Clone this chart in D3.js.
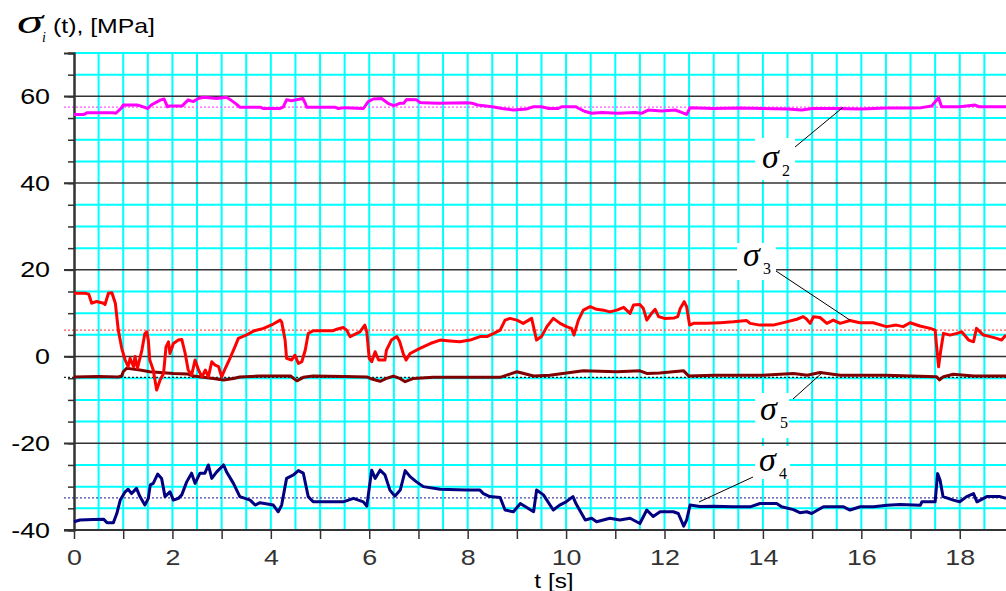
<!DOCTYPE html>
<html>
<head>
    <meta charset="utf-8">
    <title>sigma_i(t)</title>
    <script src="https://d3js.org/d3.v7.min.js"></script>
    <style>
        body { margin: 0; background: #fff; }
        svg { display: block; }
    </style>
</head>
<body>
<div id="chart"></div>
<script>
    // measured stress signals, [t in s, value in MPa]
    var sigma2 = [[0,55.8],[0.2,55.8],[0.26,56.2],[0.8,56.2],[0.85,56.1],[0.97,57.4],[1.0,58.0],[1.28,58.0],[1.35,57.8],[1.5,57.2],[1.57,58.0],[1.76,59.2],[1.83,59.4],[1.9,57.6],[1.95,57.8],[2.2,57.8],[2.32,59.2],[2.42,58.8],[2.53,59.5],[2.63,59.8],[2.9,59.5],[3.1,59.8],[3.17,59.3],[3.3,58.2],[3.37,57.5],[3.78,57.5],[3.85,57.2],[4.18,57.2],[4.25,57.5],[4.32,59.2],[4.42,59.0],[4.65,59.5],[4.7,58.4],[4.73,57.5],[5.3,57.5],[5.37,57.2],[5.5,57.4],[5.88,57.2],[5.98,58.8],[6.08,59.4],[6.25,59.5],[6.38,58.4],[6.5,57.85],[6.62,58.4],[6.7,58.4],[6.76,59.3],[6.96,59.2],[7.03,58.6],[7.1,58.5],[7.4,58.4],[7.98,58.5],[8.1,58.4],[8.2,58.0],[8.5,57.6],[8.7,57.2],[8.93,56.85],[9.2,57.1],[9.34,57.6],[9.5,57.6],[9.65,57.2],[9.84,57.2],[9.91,57.6],[10.2,57.6],[10.26,57.2],[10.39,56.5],[10.52,56.1],[10.73,56.3],[11.06,56.1],[11.4,56.3],[11.53,56.1],[11.67,56.85],[11.94,56.6],[12.22,56.85],[12.36,56.25],[12.45,55.85],[12.52,57.4],[13.0,57.2],[13.5,57.3],[14.0,57.2],[14.5,57.1],[14.79,56.85],[15.0,57.2],[15.5,57.2],[16.0,57.1],[16.5,57.3],[17.0,57.3],[17.22,57.4],[17.43,57.8],[17.57,59.7],[17.63,57.6],[18.0,57.6],[18.31,58.0],[18.4,57.6],[18.94,57.6]];

    var sigma3 = [[0,14.6],[0.23,14.6],[0.3,14.4],[0.36,12.3],[0.46,12.7],[0.6,12.3],[0.63,12.0],[0.7,14.6],[0.77,14.7],[0.84,12.3],[0.9,6.1],[0.97,1.9],[1.04,-0.8],[1.1,-2.35],[1.14,-0.4],[1.21,-2.35],[1.24,0.0],[1.29,-2.7],[1.38,1.5],[1.44,5.3],[1.48,5.7],[1.51,3.8],[1.54,-0.8],[1.61,-3.1],[1.68,-7.7],[1.75,-5.4],[1.82,-3.9],[1.87,2.25],[1.92,3.4],[1.95,0.7],[2.02,3.0],[2.12,3.8],[2.19,3.95],[2.26,0.7],[2.32,-3.1],[2.39,-4.3],[2.46,-0.8],[2.53,-3.1],[2.6,-4.7],[2.67,-3.1],[2.73,-4.7],[2.8,-1.2],[2.87,-2.0],[2.94,-2.35],[3.0,-4.7],[3.06,-3.1],[3.17,-0.4],[3.27,2.25],[3.34,4.2],[3.51,5.0],[3.65,5.9],[3.85,6.5],[4.05,7.5],[4.19,8.4],[4.22,8.0],[4.29,3.8],[4.32,-0.4],[4.42,-0.8],[4.49,0.3],[4.56,-1.6],[4.63,-1.2],[4.7,1.5],[4.76,5.3],[4.86,5.95],[5.07,5.95],[5.27,5.95],[5.34,6.3],[5.47,6.7],[5.54,6.1],[5.61,4.6],[5.81,5.7],[5.91,7.25],[5.95,5.7],[6.0,-0.4],[6.05,-1.2],[6.12,1.1],[6.19,-0.8],[6.32,-0.8],[6.35,1.5],[6.45,3.8],[6.56,4.6],[6.62,3.4],[6.69,0.7],[6.75,-0.8],[6.83,0.7],[7.03,1.9],[7.24,3.0],[7.44,3.8],[7.64,3.6],[7.84,3.4],[8.05,3.8],[8.25,4.6],[8.39,4.6],[8.52,5.3],[8.66,6.1],[8.76,8.4],[8.86,8.8],[9.0,8.4],[9.13,7.65],[9.3,8.8],[9.4,3.8],[9.5,4.6],[9.61,6.9],[9.74,8.8],[9.88,7.65],[10.01,6.9],[10.11,6.5],[10.16,4.95],[10.25,8.4],[10.35,10.7],[10.49,11.5],[10.62,10.9],[10.76,10.7],[10.89,10.3],[11.03,10.7],[11.17,11.35],[11.3,9.95],[11.37,11.9],[11.5,12.0],[11.57,11.1],[11.64,8.4],[11.74,10.0],[11.81,10.9],[11.88,9.2],[12.0,8.8],[12.2,8.9],[12.27,9.2],[12.32,11.1],[12.4,12.65],[12.45,11.5],[12.51,7.25],[12.59,7.65],[12.86,7.65],[13.13,7.8],[13.4,8.0],[13.67,8.3],[13.74,7.65],[13.94,7.25],[14.21,7.25],[14.48,8.0],[14.69,8.6],[14.82,9.2],[14.89,8.6],[14.96,7.65],[15.03,9.2],[15.16,9.0],[15.3,7.65],[15.43,8.4],[15.57,7.65],[15.77,8.3],[15.97,7.8],[16.24,7.8],[16.51,6.9],[16.71,7.25],[16.85,6.9],[16.99,7.8],[17.19,7.05],[17.4,6.5],[17.5,6.1],[17.53,2.3],[17.57,-2.35],[17.61,1.1],[17.67,5.35],[17.8,4.95],[17.94,5.35],[18.04,5.7],[18.18,3.8],[18.28,3.4],[18.34,6.5],[18.48,4.95],[18.62,4.6],[18.75,4.2],[18.85,3.8],[18.94,4.95]];

    var sigma5 = [[0,-4.7],[0.5,-4.6],[0.9,-4.7],[0.97,-4.5],[1.0,-3.5],[1.07,-2.7],[1.2,-2.9],[1.34,-3.1],[1.54,-3.5],[1.75,-3.7],[2.02,-3.9],[2.3,-4.0],[2.43,-4.5],[2.63,-4.8],[2.83,-5.05],[3.04,-5.4],[3.24,-5.05],[3.37,-4.7],[3.78,-4.5],[4.4,-4.5],[4.53,-5.6],[4.66,-4.8],[4.86,-4.5],[5.5,-4.6],[5.95,-4.7],[6.02,-5.05],[6.22,-5.7],[6.35,-5.05],[6.49,-4.5],[6.62,-5.05],[6.73,-5.8],[6.9,-5.05],[7.3,-4.8],[8.0,-4.8],[8.66,-4.8],[9.0,-3.5],[9.34,-4.5],[9.67,-4.3],[10.35,-3.3],[11.03,-3.5],[11.5,-3.3],[11.64,-3.9],[11.9,-3.8],[12.39,-3.3],[12.49,-4.5],[13.0,-4.3],[14.0,-4.3],[14.62,-3.9],[14.9,-4.3],[15.16,-3.7],[15.57,-4.3],[16.5,-4.3],[17.53,-4.65],[17.59,-5.4],[17.67,-4.65],[17.87,-4.1],[18.28,-4.5],[18.94,-4.5]];

    var sigma4 = [[0,-38.1],[0.12,-37.7],[0.39,-37.6],[0.6,-37.5],[0.67,-38.3],[0.8,-38.3],[0.87,-36.2],[0.94,-33.1],[1.04,-31.2],[1.1,-30.6],[1.17,-31.6],[1.27,-30.4],[1.34,-32.3],[1.44,-34.25],[1.51,-32.7],[1.55,-29.6],[1.61,-29.25],[1.7,-27.1],[1.78,-28.1],[1.85,-32.3],[1.95,-31.2],[2.02,-33.1],[2.12,-32.7],[2.19,-31.9],[2.29,-28.9],[2.39,-26.9],[2.46,-29.25],[2.56,-26.9],[2.66,-26.9],[2.73,-25.0],[2.8,-28.1],[2.9,-26.6],[3.04,-25.0],[3.1,-26.6],[3.24,-29.25],[3.37,-32.3],[3.58,-33.1],[3.68,-34.25],[3.78,-33.7],[4.05,-34.25],[4.15,-35.8],[4.22,-34.25],[4.32,-28.1],[4.46,-27.3],[4.56,-26.3],[4.66,-26.9],[4.76,-32.3],[4.86,-33.5],[5.13,-33.5],[5.47,-33.5],[5.68,-32.7],[5.88,-33.5],[5.95,-34.5],[6.05,-26.2],[6.12,-28.1],[6.22,-26.2],[6.32,-27.3],[6.42,-30.8],[6.52,-32.2],[6.63,-30.8],[6.73,-26.3],[6.83,-27.7],[6.96,-28.9],[7.1,-30.0],[7.44,-30.6],[7.98,-30.8],[8.25,-30.8],[8.32,-31.6],[8.45,-32.3],[8.66,-32.5],[8.76,-35.4],[8.93,-35.8],[9.07,-33.9],[9.34,-35.8],[9.4,-30.8],[9.54,-31.9],[9.74,-35.4],[9.87,-34.25],[10.0,-33.5],[10.14,-32.3],[10.2,-33.9],[10.39,-37.7],[10.52,-37.3],[10.62,-38.1],[10.89,-37.3],[11.09,-37.7],[11.3,-37.3],[11.5,-38.5],[11.64,-35.4],[11.77,-36.9],[11.91,-35.8],[12.18,-35.8],[12.28,-36.2],[12.39,-39.1],[12.45,-37.7],[12.52,-34.25],[12.72,-34.6],[13.0,-34.5],[13.4,-34.65],[13.74,-34.65],[13.94,-33.9],[14.28,-33.9],[14.38,-34.65],[14.62,-35.3],[14.75,-36.0],[14.89,-35.8],[14.99,-36.2],[15.23,-34.65],[15.64,-34.65],[15.77,-35.4],[15.98,-34.65],[16.25,-34.65],[16.52,-34.3],[16.79,-34.1],[17.2,-34.3],[17.23,-33.5],[17.5,-33.5],[17.55,-27.0],[17.6,-28.5],[17.66,-32.3],[17.87,-33.1],[18.0,-33.5],[18.14,-32.3],[18.28,-31.6],[18.35,-33.5],[18.55,-32.3],[18.82,-32.3],[18.94,-32.7]];

    // mean value of each signal (dotted lines): sigma2, sigma3, sigma5, sigma4
    var meanValues = [57.5, 6.1, -4.8, -32.6];

    // tick labels
    var xTickLabels = [0, 2, 4, 6, 8, 10, 12, 14, 16, 18];
    var yTickLabels = [-40, -20, 0, 20, 40, 60];

    var W = 1006, H = 591;
    var svg = d3.select("#chart").append("svg")
        .attr("width", W).attr("height", H);

    var x = d3.scaleLinear().domain([0, 18.94]).range([74, 1006]);
    var y = d3.scaleLinear().domain([-40, 70]).range([530, 53]);

    var stretch = 1.22; // the original is a bit wide

    // cyan grid
    var grid = svg.append("g");
    grid.selectAll(".vg")
        .data(d3.range(0.5, 19, 0.5))
        .enter().append("line")
        .attr("x1", d => x(d)).attr("x2", d => x(d))
        .attr("y1", y(70)).attr("y2", y(-40))
        .attr("stroke", "#00ffff").attr("stroke-width", 2);
    grid.selectAll(".hg")
        .data(d3.range(-35, 71, 5).filter(d => d % 20 != 0))
        .enter().append("line")
        .attr("x1", x(0)).attr("x2", W)
        .attr("y1", d => y(d)).attr("y2", d => y(d))
        .attr("stroke", "#00ffff").attr("stroke-width", 2);
    // black major lines
    grid.selectAll(".mg")
        .data(yTickLabels.filter(d => d > -40))
        .enter().append("line")
        .attr("x1", x(0) - 10).attr("x2", W)
        .attr("y1", d => y(d)).attr("y2", d => y(d))
        .attr("stroke", "#333").attr("stroke-width", 1.5);

    // label boxes (white, hide the grid behind the labels)
    var notes = [
        {name: "2", box: [755, 138, 40, 42], at: [762, 168], from: [795, 147], to: [15.63, 57.5]},
        {name: "3", box: [737, 243, 39, 37], at: [743, 266], from: [776, 271], to: [15.77, 8.4]},
        {name: "5", box: [755, 393, 34, 45], at: [760, 420], from: [793, 399], to: [15.2, -3.8]},
        {name: "4", box: [755, 446, 35, 33], at: [759, 471], from: [753, 477], to: [12.7, -33.55]}
    ];
    svg.selectAll(".box")
        .data(notes)
        .enter().append("rect")
        .attr("x", d => d.box[0]).attr("y", d => d.box[1])
        .attr("width", d => d.box[2]).attr("height", d => d.box[3])
        .attr("fill", "#fff");

    // dotted mean lines
    var meanColors = ["#ff55ff", "#ff5555", "#222", "#4444aa"];
    svg.selectAll(".mean")
        .data(meanValues)
        .enter().append("line")
        .attr("x1", x(0) - 10).attr("x2", W)
        .attr("y1", d => y(d)).attr("y2", d => y(d))
        .attr("stroke", (d, i) => meanColors[i])
        .attr("stroke-width", 1.2)
        .attr("stroke-dasharray", "2,2");

    // axes
    var yMinor = svg.append("g")
        .attr("transform", "translate(" + x(0) + ",0)")
        .call(d3.axisLeft(y).tickValues(d3.range(-40, 71, 5)).tickSize(6).tickFormat(""));
    var yAxis = svg.append("g")
        .attr("transform", "translate(" + x(0) + ",0)")
        .call(d3.axisLeft(y).tickValues(yTickLabels).tickSize(10).tickPadding(0)
            .tickFormat(d => String(d)));
    var xAxis = svg.append("g")
        .attr("transform", "translate(0," + y(-40) + ")")
        .call(d3.axisBottom(x).tickValues(d3.range(0, 19, 1)).tickSize(9)
            .tickFormat(d => xTickLabels.indexOf(d) >= 0 ? String(d) : ""));

    [yMinor, yAxis, xAxis].forEach(function(a) {
        a.select(".domain").attr("stroke", "#333").attr("stroke-width", 2);
        a.selectAll(".tick line").attr("stroke", "#333").attr("stroke-width", 1.5);
    });
    xAxis.select(".domain").attr("d", "M" + (x(0) - 10) + ",0H" + W);

    yAxis.selectAll("text")
        .attr("font-family", "Liberation Sans, Arial, sans-serif")
        .attr("font-size", 22).attr("fill", "#000")
        .attr("x", -24 / stretch)
        .attr("transform", "scale(" + stretch + ",1)");
    xAxis.selectAll("text")
        .attr("font-family", "Liberation Sans, Arial, sans-serif")
        .attr("font-size", 22).attr("fill", "#333")
        .attr("y", 19)
        .attr("transform", "scale(" + stretch + ",1)");

    // signals
    var line = d3.line().x(d => x(d[0])).y(d => y(d[1]));
    var series = [
        {data: sigma2, color: "#ff00ff"},
        {data: sigma5, color: "#800000"},
        {data: sigma3, color: "#ff0000"},
        {data: sigma4, color: "#000080"}
    ];
    svg.selectAll(".sig")
        .data(series)
        .enter().append("path")
        .attr("d", d => line(d.data))
        .attr("fill", "none")
        .attr("stroke", d => d.color)
        .attr("stroke-width", 3)
        .attr("stroke-linejoin", "round");

    // leader lines and sigma labels
    svg.selectAll(".lead")
        .data(notes)
        .enter().append("line")
        .attr("x1", d => d.from[0]).attr("y1", d => d.from[1])
        .attr("x2", d => x(d.to[0])).attr("y2", d => y(d.to[1]))
        .attr("stroke", "#000").attr("stroke-width", 1);
    var lab = svg.selectAll(".lab")
        .data(notes)
        .enter().append("g")
        .attr("transform", d => "translate(" + d.at[0] + "," + d.at[1] + ")");
    lab.append("text")
        .attr("font-family", "Liberation Serif, Times New Roman, serif")
        .attr("font-style", "italic")
        .attr("font-size", 34)
        .text("σ");
    lab.append("text")
        .attr("x", 20).attr("y", 8)
        .attr("font-family", "Liberation Serif, Times New Roman, serif")
        .attr("font-size", 16)
        .text(d => d.name);

    // titles
    svg.append("text")
        .attr("transform", "translate(17,33) scale(1.6,1)")
        .attr("font-family", "Liberation Serif, Times New Roman, serif")
        .attr("font-style", "italic")
        .attr("font-size", 33)
        .text("σ");
    svg.append("text")
        .attr("x", 42).attr("y", 42)
        .attr("font-family", "Liberation Serif, Times New Roman, serif")
        .attr("font-style", "italic")
        .attr("font-size", 14)
        .text("i");
    svg.append("text")
        .attr("x", 53).attr("y", 33)
        .attr("font-family", "Liberation Sans, Arial, sans-serif")
        .attr("font-size", 21)
        .attr("textLength", 102).attr("lengthAdjust", "spacingAndGlyphs")
        .text("(t), [MPa]");
    svg.append("text")
        .attr("transform", "translate(554,588) scale(" + stretch + ",1)")
        .attr("text-anchor", "middle")
        .attr("font-family", "Liberation Sans, Arial, sans-serif")
        .attr("font-size", 20)
        .text("t [s]");
</script>
</body>
</html>
